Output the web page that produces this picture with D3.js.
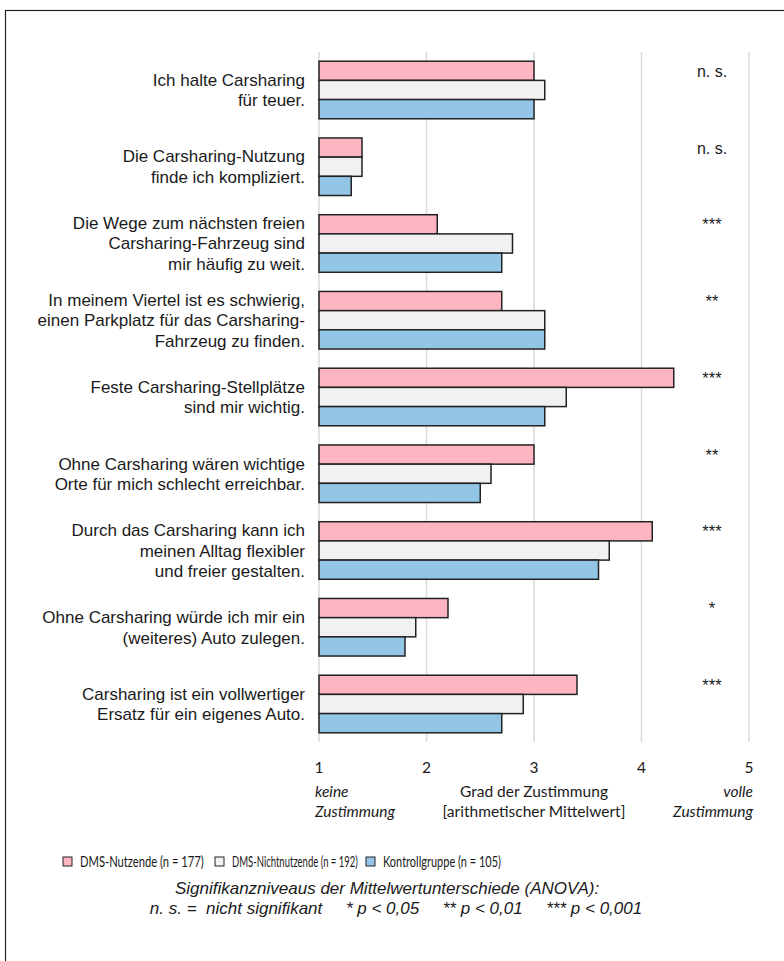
<!DOCTYPE html>
<html>
<head>
<meta charset="utf-8">
<script src="https://cdn.jsdelivr.net/npm/d3@7"></script>
<style>
  body { margin: 0; background: #fff; }
  text { font-family: "Liberation Sans", Arial, sans-serif; fill: #1a1a1a; }
  text.calib { font-family: Lato, "Open Sans", sans-serif; }
</style>
</head>
<body>
<div id="chart"></div>
<script>
// statements (each one split into display lines)
var statements = [
  ["Ich halte Carsharing", "für teuer."],
  ["Die Carsharing-Nutzung", "finde ich kompliziert."],
  ["Die Wege zum nächsten freien", "Carsharing-Fahrzeug sind", "mir häufig zu weit."],
  ["In meinem Viertel ist es schwierig,", "einen Parkplatz für das Carsharing-", "Fahrzeug zu finden."],
  ["Feste Carsharing-Stellplätze", "sind mir wichtig."],
  ["Ohne Carsharing wären wichtige", "Orte für mich schlecht erreichbar."],
  ["Durch das Carsharing kann ich", "meinen Alltag flexibler", "und freier gestalten."],
  ["Ohne Carsharing würde ich mir ein", "(weiteres) Auto zulegen."],
  ["Carsharing ist ein vollwertiger", "Ersatz für ein eigenes Auto."]
];
var significance = ["n. s.", "n. s.", "***", "**", "***", "**", "***", "*", "***"];

var seriesNames = ["DMS-Nutzende (n = 177)", "DMS-Nichtnutzende (n = 192)", "Kontrollgruppe (n = 105)"];
var nutzende      = [3.0, 1.4, 2.1, 2.7, 4.3, 3.0, 4.1, 2.2, 3.4];
var nichtnutzende = [3.1, 1.4, 2.8, 3.1, 3.3, 2.6, 3.7, 1.9, 2.9];
var kontroll      = [3.0, 1.3, 2.7, 3.1, 3.1, 2.5, 3.6, 1.8, 2.7];
var seriesValues = [nutzende, nichtnutzende, kontroll];
var seriesColors = ["#fdb6c1", "#f1f1f1", "#93c6e6"];

var tickValues = [1, 2, 3, 4, 5];

var W = 784, H = 961;
var svg = d3.select("#chart").append("svg")
    .attr("width", W)
    .attr("height", H);

// frame (only left and top edges are inside the picture)
svg.append("rect")
    .attr("x", 5.5).attr("y", 10.5)
    .attr("width", 800).attr("height", 1000)
    .attr("fill", "none").attr("stroke", "#222").attr("stroke-width", 1.2);

var x = d3.scaleLinear().domain([1, 5]).range([319, 749]);
var y = d3.scaleBand().domain(d3.range(statements.length))
    .range([52, 742]).paddingInner(0.25).paddingOuter(0.12);
var ySub = d3.scaleBand().domain(d3.range(3)).range([0, y.bandwidth()]);

// gridlines
svg.append("g").selectAll("line")
    .data(tickValues)
    .enter().append("line")
    .attr("x1", d => x(d)).attr("x2", d => x(d))
    .attr("y1", 52).attr("y2", 742)
    .attr("stroke", "#d9d9d9").attr("stroke-width", 1.5);

// bars
var groups = svg.append("g").selectAll("g")
    .data(statements)
    .enter().append("g")
    .attr("transform", (d, i) => "translate(0," + y(i) + ")");

groups.selectAll("rect")
    .data((d, i) => seriesValues.map((s, k) => ({k: k, v: s[i]})))
    .enter().append("rect")
    .attr("x", x(1))
    .attr("y", d => ySub(d.k))
    .attr("width", d => x(d.v) - x(1))
    .attr("height", ySub.bandwidth())
    .attr("fill", d => seriesColors[d.k])
    .attr("stroke", "#222").attr("stroke-width", 1.5);

// statement labels
groups.append("text")
    .attr("text-anchor", "end")
    .attr("font-size", 17)
    .each(function(d) {
      var t = d3.select(this);
      var n = d.length;
      var mid = y.bandwidth() / 2;
      d.forEach(function(line, j) {
        t.append("tspan")
          .attr("x", 305)
          .attr("y", mid + (j - (n - 1) / 2) * 20.5 + 6)
          .text(line);
      });
    });

// significance markers
groups.append("text")
    .attr("x", 712)
    .attr("y", ySub(0) + ySub.bandwidth() / 2 + 6)
    .attr("text-anchor", "middle")
    .attr("font-size", (d, i) => significance[i] === "n. s." ? 16 : 16.5)
    .text((d, i) => significance[i]);

// tick labels
svg.append("g").selectAll("text")
    .data(tickValues)
    .enter().append("text")
    .attr("class", "calib")
    .attr("x", d => x(d))
    .attr("y", 773)
    .attr("text-anchor", "middle")
    .attr("font-size", 15.5)
    .text(d => d);

// axis captions
var capItems = [
  {t: "keine", x: 315, y: 797, a: "start", it: true},
  {t: "Zustimmung", x: 315, y: 817, a: "start", it: true},
  {t: "Grad der Zustimmung", x: x(3), y: 797, a: "middle", it: false},
  {t: "[arithmetischer Mittelwert]", x: x(3), y: 817, a: "middle", it: false},
  {t: "volle", x: 753, y: 797, a: "end", it: true},
  {t: "Zustimmung", x: 753, y: 817, a: "end", it: true}
];
svg.append("g").selectAll("text")
    .data(capItems)
    .enter().append("text")
    .attr("class", "calib")
    .attr("font-size", 15.5)
    .attr("x", d => d.x).attr("y", d => d.y)
    .attr("text-anchor", d => d.a)
    .attr("font-style", d => d.it ? "italic" : "normal")
    .text(d => d.t);

// legend
var legendX = [63, 215, 366];
var legendW = [124, 126, 118];
var leg = svg.append("g").selectAll("g")
    .data(seriesNames)
    .enter().append("g")
    .attr("transform", (d, i) => "translate(" + legendX[i] + ",857)");
leg.append("rect")
    .attr("width", 9).attr("height", 9)
    .attr("fill", (d, i) => seriesColors[i])
    .attr("stroke", "#222").attr("stroke-width", 1);
leg.append("text")
    .attr("class", "calib")
    .attr("font-size", 14.5)
    .text(d => d)
    .each(function(d, i) {
      // Calibri is narrow, so squeeze the stand-in font horizontally
      var k = Math.min(1, legendW[i] / this.getComputedTextLength());
      d3.select(this).attr("transform", "translate(17,10) scale(" + k + ",1)");
    });

// significance footnote
var foot = svg.append("g").attr("font-style", "italic").attr("font-size", 17);
foot.append("text").attr("x", 387).attr("y", 894).attr("text-anchor", "middle")
    .text("Signifikanzniveaus der Mittelwertunterschiede (ANOVA):");
foot.append("text").attr("x", 396).attr("y", 914).attr("text-anchor", "middle")
    .attr("xml:space", "preserve")
    .text("n. s. =  nicht signifikant     * p < 0,05     ** p < 0,01     *** p < 0,001");
</script>
</body>
</html>
